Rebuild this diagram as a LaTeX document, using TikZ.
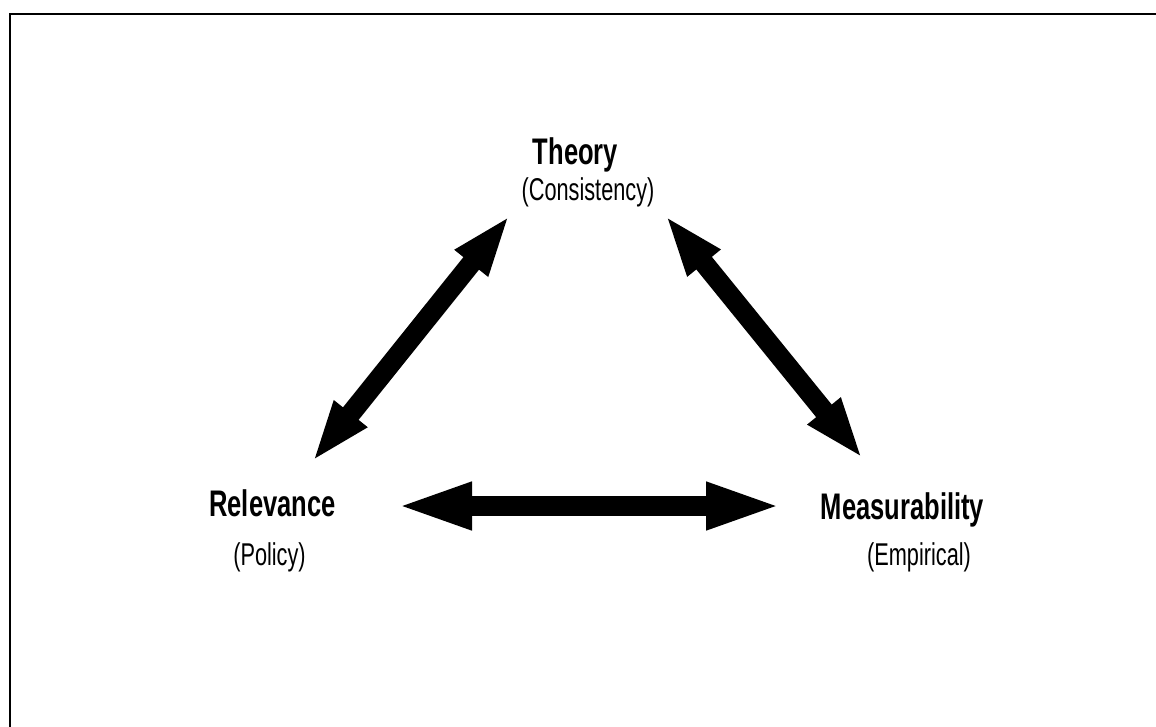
\documentclass[tikz,border=0pt]{standalone}
\usepackage{fontspec}
\setmainfont{Liberation Sans}
\newfontfamily\condfont[FakeStretch=0.69]{Liberation Sans}
\usetikzlibrary{arrows.meta}
\tikzset{
  frameline/.style={line width=2pt, line cap=rect},
  titlelabel/.style={anchor=base, inner sep=0pt, font=\condfont\bfseries\fontsize{37}{40}\selectfont},
  sublabel/.style={anchor=base, inner sep=0pt, font=\condfont\fontsize{31.5}{34}\selectfont},
  diagarrow/.style={line width=20pt, {Triangle[length=62pt,width=38pt]}-{Triangle[length=62pt,width=38pt]}},
  horizarrow/.style={line width=20pt, {Triangle[length=78pt,width=42pt]}-{Triangle[length=78pt,width=42pt]}}
}
\begin{document}
\begin{tikzpicture}[x=1pt,y=-1pt]
\useasboundingbox (0,0) rectangle (1156,726);
\fill[white] (0,0) rectangle (1156,726);
\draw[frameline] (10.3,726) -- (10.3,13.7) -- (1156,13.7);

\node[titlelabel] (theory) at (575.5,164.5) {Theory};
\node[sublabel] (consistency) at (588,200.5) {(Consistency)};
\node[titlelabel] (relevance) at (272.5,516.5) {Relevance};
\node[sublabel] (policy) at (269.5,565) {(Policy)};
\node[titlelabel] (measurability) at (902.5,519) {Measurability};
\node[sublabel] (empirical) at (919,565) {(Empirical)};

\coordinate (ltop) at (510,215);
\coordinate (lbot) at (312,462);
\coordinate (rtop) at (665,215);
\coordinate (rbot) at (863,459);
\coordinate (hleft) at (394,506);
\coordinate (hright) at (784,506);

\draw[diagarrow] (lbot) -- (ltop);
\draw[diagarrow] (rtop) -- (rbot);
\draw[horizarrow] (hleft) -- (hright);
\end{tikzpicture}
\end{document}
